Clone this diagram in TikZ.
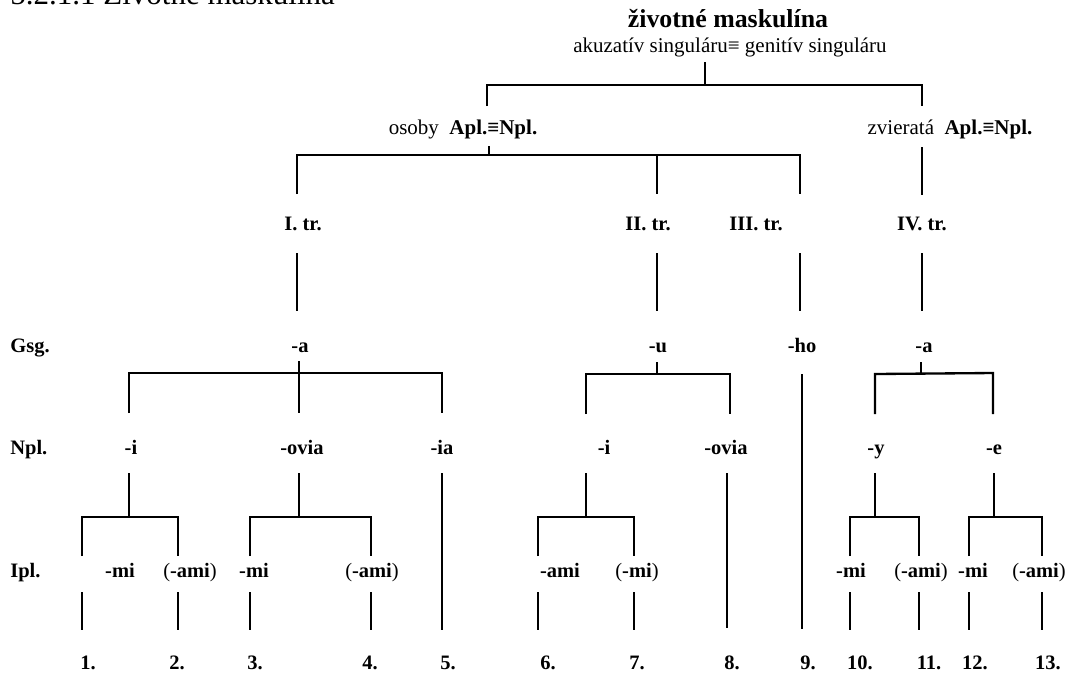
\documentclass[tikz,border=0pt]{standalone}
\usepackage{fontspec}
\setmainfont{Liberation Serif}
\usepackage{tikz}
\tikzset{
  every tree node/.style={
    anchor=base,inner sep=0pt,font=\fontsize{12.3}{14}\selectfont\bfseries,
  },
  every plain node/.style={
    anchor=base,inner sep=0pt,font=\fontsize{12.6}{15}\selectfont,
  },
  every tree line/.style={
    draw=black,line width=1.4pt,
  },
}

\begin{document}
\begin{tikzpicture}[x=0.6pt,y=0.6pt]
   \useasboundingbox (0,0) rectangle (1067,-672);

   % HEADING
   \node[every plain node,anchor=base west,font=\fontsize{18.6}{20}\selectfont] (hd) at (10,-4) {5.2.1.1 Životné maskulína};

   % NODES
   \node[every tree node,font=\fontsize{15.5}{18}\selectfont\bfseries] (r0) at (728,-27) {životné maskulína}; % root
   \node[every plain node] (r1) at (730,-52) {akuzatív singuláru≡ genitív singuláru};
   \coordinate (r1s) at (705,-62);
   \coordinate (r1j) at (705,-85);
   \coordinate (k0) at (487,-85);
   \coordinate (k1) at (922,-85);
   \coordinate (k0e) at (487,-106);
   \coordinate (k1e) at (922,-106);

   % DRAW TREE
   \path[every tree line] (r1s)--(r1j);
   \path[every tree line] (k0e)--(k0)--(k1)--(k1e);

   % NODES
   \node[every plain node] (s0) at (463,-134) {osoby~~\textbf{Apl.≡Npl.}};
   \node[every plain node] (s1) at (950,-134) {zvieratá~~\textbf{Apl.≡Npl.}};
   \coordinate (s0s) at (489,-146);
   \coordinate (s0j) at (489,-155);
   \coordinate (s0a) at (297,-155);
   \coordinate (s0b) at (657,-155);
   \coordinate (s0c) at (800,-155);
   \coordinate (s0ae) at (297,-194);
   \coordinate (s0be) at (657,-194);
   \coordinate (s0ce) at (800,-194);
   \coordinate (s1s) at (922,-147);
   \coordinate (s1e) at (922,-195);

   % DRAW TREE
   \path[every tree line] (s0s)--(s0j);
   \path[every tree line] (s0ae)--(s0a)--(s0c)--(s0ce);
   \path[every tree line] (s0b)--(s0be);
   \path[every tree line] (s1s)--(s1e);

   % NODES
   \node[every tree node] (t1) at (303,-230) {I. tr.};
   \node[every tree node] (t2) at (648,-230) {II. tr.};
   \node[every tree node] (t3) at (756,-230) {III. tr.};
   \node[every tree node] (t4) at (922,-230) {IV. tr.};
   \coordinate (t1s) at (297,-253);
   \coordinate (t1e) at (297,-311);
   \coordinate (t2s) at (657,-253);
   \coordinate (t2e) at (657,-311);
   \coordinate (t3s) at (800,-253);
   \coordinate (t3e) at (800,-311);
   \coordinate (t4s) at (922,-253);
   \coordinate (t4e) at (922,-311);

   % DRAW TREE
   \path[every tree line] (t1s)--(t1e);
   \path[every tree line] (t2s)--(t2e);
   \path[every tree line] (t3s)--(t3e);
   \path[every tree line] (t4s)--(t4e);

   % NODES
   \node[every tree node,anchor=base west] (g0) at (10,-352) {Gsg.};
   \node[every tree node] (g1) at (300,-352) {-a};
   \node[every tree node] (g2) at (658,-352) {-u};
   \node[every tree node] (g3) at (802,-352) {-ho};
   \node[every tree node] (g4) at (924,-352) {-a};
   \coordinate (g1s) at (299,-361);
   \coordinate (g1a) at (129,-373);
   \coordinate (g1c) at (442,-373);
   \coordinate (g1ae) at (129,-413);
   \coordinate (g1be) at (299,-413);
   \coordinate (g1ce) at (442,-413);
   \coordinate (g2s) at (657,-362);
   \coordinate (g2j) at (657,-374);
   \coordinate (g2a) at (586,-374);
   \coordinate (g2c) at (730,-374);
   \coordinate (g2ae) at (586,-414);
   \coordinate (g2ce) at (730,-414);
   \coordinate (g3s) at (802,-374);
   \coordinate (g3e) at (802,-629);
   \coordinate (g4s) at (921,-362);
   \coordinate (g4j) at (921,-374);
   \coordinate (g4a) at (875,-374);
   \coordinate (g4c) at (993,-373);
   \coordinate (g4ae) at (875,-414);
   \coordinate (g4ce) at (993,-414);

   % DRAW TREE
   \path[every tree line] (g1s)--(g1be);
   \path[every tree line] (g1ae)--(g1a)--(g1c)--(g1ce);
   \path[every tree line] (g2s)--(g2j);
   \path[every tree line] (g2ae)--(g2a)--(g2c)--(g2ce);
   \path[every tree line] (g3s)--(g3e);
   \path[every tree line] (g4s)--(g4j);
   \path[every tree line] (g4ae)--(g4a)--(g4c)--(g4ce);

   % NODES
   \node[every tree node,anchor=base west] (n0) at (10,-454) {Npl.};
   \node[every tree node] (n1) at (131,-454) {-i};
   \node[every tree node] (n2) at (302,-454) {-ovia};
   \node[every tree node] (n3) at (442,-454) {-ia};
   \node[every tree node] (n4) at (604,-454) {-i};
   \node[every tree node] (n5) at (726,-454) {-ovia};
   \node[every tree node] (n6) at (876,-454) {-y};
   \node[every tree node] (n7) at (994,-454) {-e};
   \coordinate (n1s) at (129,-473);
   \coordinate (n1j) at (129,-517);
   \coordinate (n1a) at (82,-517);
   \coordinate (n1c) at (178,-517);
   \coordinate (n2s) at (299,-473);
   \coordinate (n2j) at (299,-517);
   \coordinate (n2a) at (250,-517);
   \coordinate (n2c) at (371,-517);
   \coordinate (n3s) at (442,-473);
   \coordinate (n3e) at (442,-630);
   \coordinate (n4s) at (586,-473);
   \coordinate (n4j) at (586,-517);
   \coordinate (n4a) at (538,-517);
   \coordinate (n4c) at (634,-517);
   \coordinate (n5s) at (727,-473);
   \coordinate (n5e) at (727,-628);
   \coordinate (n6s) at (875,-473);
   \coordinate (n6j) at (875,-517);
   \coordinate (n6a) at (850,-517);
   \coordinate (n6c) at (919,-517);
   \coordinate (n7s) at (994,-473);
   \coordinate (n7j) at (994,-517);
   \coordinate (n7a) at (969,-517);
   \coordinate (n7c) at (1042,-517);
   \coordinate (n1ae) at (82,-556);
   \coordinate (n1ce) at (178,-556);
   \coordinate (n2ae) at (250,-556);
   \coordinate (n2ce) at (371,-556);
   \coordinate (n4ae) at (538,-556);
   \coordinate (n4ce) at (634,-556);
   \coordinate (n6ae) at (850,-556);
   \coordinate (n6ce) at (919,-556);
   \coordinate (n7ae) at (969,-556);
   \coordinate (n7ce) at (1042,-556);

   % DRAW TREE
   \path[every tree line] (n1s)--(n1j);
   \path[every tree line] (n1ae)--(n1a)--(n1c)--(n1ce);
   \path[every tree line] (n2s)--(n2j);
   \path[every tree line] (n2ae)--(n2a)--(n2c)--(n2ce);
   \path[every tree line] (n3s)--(n3e);
   \path[every tree line] (n4s)--(n4j);
   \path[every tree line] (n4ae)--(n4a)--(n4c)--(n4ce);
   \path[every tree line] (n5s)--(n5e);
   \path[every tree line] (n6s)--(n6j);
   \path[every tree line] (n6ae)--(n6a)--(n6c)--(n6ce);
   \path[every tree line] (n7s)--(n7j);
   \path[every tree line] (n7ae)--(n7a)--(n7c)--(n7ce);

   % NODES
   \node[every tree node,anchor=base west] (i0) at (10,-577) {Ipl.};
   \node[every tree node] (i1) at (120,-577) {-mi};
   \node[every tree node] (i2) at (190,-577) {\mdseries(\bfseries-ami\mdseries)};
   \node[every tree node] (i3) at (254,-577) {-mi};
   \node[every tree node] (i4) at (372,-577) {\mdseries(\bfseries-ami\mdseries)};
   \node[every tree node] (i5) at (560,-577) {-ami};
   \node[every tree node] (i6) at (637,-577) {\mdseries(\bfseries-mi\mdseries)};
   \node[every tree node] (i7) at (851,-577) {-mi};
   \node[every tree node] (i8) at (921,-577) {\mdseries(\bfseries-ami\mdseries)};
   \node[every tree node] (i9) at (973,-577) {-mi};
   \node[every tree node] (i10) at (1039,-577) {\mdseries(\bfseries-ami\mdseries)};
   \coordinate (i1s) at (82,-592);
   \coordinate (i1e) at (82,-630);
   \coordinate (i2s) at (178,-592);
   \coordinate (i2e) at (178,-630);
   \coordinate (i3s) at (250,-592);
   \coordinate (i3e) at (250,-630);
   \coordinate (i4s) at (371,-592);
   \coordinate (i4e) at (371,-630);
   \coordinate (i5s) at (538,-592);
   \coordinate (i5e) at (538,-630);
   \coordinate (i6s) at (634,-592);
   \coordinate (i6e) at (634,-630);
   \coordinate (i7s) at (850,-592);
   \coordinate (i7e) at (850,-630);
   \coordinate (i8s) at (919,-592);
   \coordinate (i8e) at (919,-630);
   \coordinate (i9s) at (969,-592);
   \coordinate (i9e) at (969,-630);
   \coordinate (i10s) at (1042,-592);
   \coordinate (i10e) at (1042,-630);

   % DRAW TREE
   \path[every tree line] (i1s)--(i1e);
   \path[every tree line] (i2s)--(i2e);
   \path[every tree line] (i3s)--(i3e);
   \path[every tree line] (i4s)--(i4e);
   \path[every tree line] (i5s)--(i5e);
   \path[every tree line] (i6s)--(i6e);
   \path[every tree line] (i7s)--(i7e);
   \path[every tree line] (i8s)--(i8e);
   \path[every tree line] (i9s)--(i9e);
   \path[every tree line] (i10s)--(i10e);

   % NUMBERS
   \node[every tree node] (e1) at (88,-669) {1.};
   \node[every tree node] (e2) at (177,-669) {2.};
   \node[every tree node] (e3) at (255,-669) {3.};
   \node[every tree node] (e4) at (370,-669) {4.};
   \node[every tree node] (e5) at (448,-669) {5.};
   \node[every tree node] (e6) at (548,-669) {6.};
   \node[every tree node] (e7) at (637,-669) {7.};
   \node[every tree node] (e8) at (732,-669) {8.};
   \node[every tree node] (e9) at (808,-669) {9.};
   \node[every tree node] (e10) at (860,-669) {10.};
   \node[every tree node] (e11) at (929,-669) {11.};
   \node[every tree node] (e12) at (975,-669) {12.};
   \node[every tree node] (e13) at (1048,-669) {13.};

\end{tikzpicture}
\end{document}
